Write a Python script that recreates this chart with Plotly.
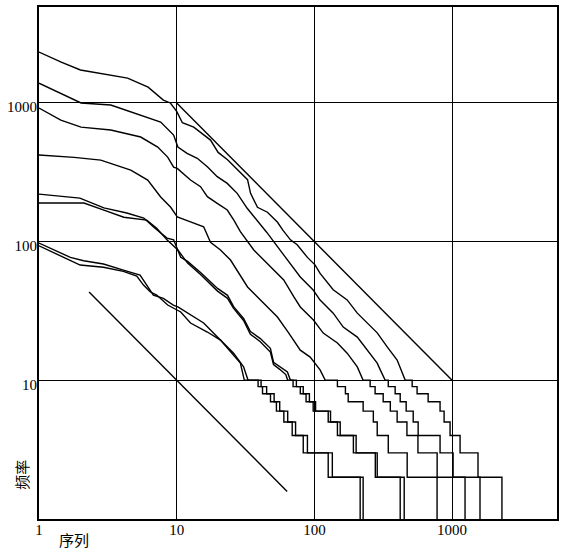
import plotly.graph_objects as go

# rank / frequency readings for the eight curves (smooth upper part, ending at freq 10)
rank_I = [1, 1.45, 2, 2.8, 4.4, 6.2, 8, 9, 10, 11, 13.3, 17.6, 20, 23.4, 32.7, 34.4, 38.6, 45.6,
          54, 59, 67, 75, 89, 101, 110, 137, 173, 205, 242, 286, 338, 399, 457]
freq_I = [2330, 1970, 1730, 1640, 1510, 1300, 1050, 1000, 870, 720, 670, 540, 440, 390, 280, 223, 177, 163,
          138, 121, 103, 95, 77, 68, 59, 45, 38, 30.5, 26, 22, 17.4, 14, 10]
rank_II = [1, 1.44, 2.02, 3.32, 5.48, 7.65, 9.5, 10.2, 11.9, 14.1, 16.7, 19.7, 23.3, 27.5, 32.5, 45,
           60, 79, 98, 110, 137, 162, 205, 242, 286, 301, 327]
freq_II = [1390, 1180, 1000, 966, 818, 728, 587, 481, 433, 399, 347, 294, 263, 223, 174, 117,
           80, 55.6, 44.8, 37.9, 30.5, 24.2, 20.5, 16.5, 13.3, 11.9, 10]
rank_III = [1, 1.44, 2.02, 3.32, 5.48, 7.28, 8.6, 9.5, 10.1, 12.6, 14.9, 16.7, 19.7, 23.3, 26, 29,
            36.3, 42.9, 50.7, 59.9, 70.8, 79, 98.4, 116, 147, 173, 205, 226]
freq_III = [919, 753, 670, 638, 568, 481, 407, 345, 337, 278, 249, 211, 189, 169, 143, 118,
            87, 73.7, 62.4, 52.9, 40.1, 33.8, 27.2, 21.9, 18.6, 15.7, 12.5, 10]
rank_IV = [1, 1.8, 2.81, 4.64, 6.16, 7.65, 9.05, 10.1, 12.6, 15.7, 17.6, 20.8, 24.6, 29, 32.7, 38.6,
           45.6, 53.9, 65, 79, 93.2, 110, 120]
freq_IV = [421, 405, 387, 328, 278, 210, 177, 151, 139, 128, 99, 87, 73.7, 57, 47.1, 39.9,
           33.8, 28.6, 22, 16.5, 14.7, 11.9, 10]
rank_V = [1, 1.98, 2.96, 4.34, 5.77, 6.82, 8.5, 9.5, 10.7, 12, 14.9, 19.8, 23.4, 25.9, 30.6, 34.3,
          40.5, 47.9, 50.5, 56.9, 63.7, 67]
freq_V = [220, 206, 175, 161, 148, 127, 106, 103, 77, 72, 60, 46, 41, 34, 28, 22.5,
          20, 17, 13.5, 12.5, 11.5, 10]
rank_VI = [1, 2.12, 2.96, 4.13, 6.06, 7.16, 8.5, 10.2, 12, 14.9, 19.8, 23.4, 25.9, 30.6, 34.3,
           40.5, 47.9, 50.5, 56, 62, 64]
freq_VI = [190, 190, 169, 150, 143, 125, 103, 87, 70, 58, 44, 39, 33, 27, 21.5,
           19, 16, 13, 12, 11, 10]
rank_VII = [1, 1.69, 2.11, 2.94, 4.1, 5.42, 6.06, 6.77, 8.0, 9.45, 10.2, 13.3, 15.7, 18.5, 21.9,
            25.9, 30.6, 33]
freq_VII = [97.7, 77, 72.8, 69, 62.4, 57.4, 48.6, 41.2, 39, 34.9, 33.8, 28.6, 25.9, 21.9, 18.6,
            15.7, 12.5, 10]
rank_VIII = [1, 1.69, 1.99, 2.94, 4.1, 5.13, 5.74, 6.41, 7.16, 8.6, 10.7, 12.6, 16.7, 20.8, 24.6,
             29, 31]
freq_VIII = [93.3, 72.8, 67.8, 65.3, 61, 56.5, 48.6, 43.5, 41.2, 34.9, 31.1, 25.9, 22.3, 19.5, 16,
             13.3, 10]

# ranks where the frequency drops to 9, 8, ..., 2, 1 (staircase part)
drop_I = [513, 557, 670, 818, 875, 967, 1143, 1543, 2302]
drop_II = [344, 386, 420, 464, 522, 567, 818, 1017, 1595]
drop_III = [254, 276, 316, 356, 399, 470, 565, 779, 1242]
drop_IV = [147, 168, 176, 226, 268, 286, 344, 472, 778]
drop_V = [74, 83, 92, 102, 131, 147, 192, 277, 420]
drop_VI = [70, 79, 87, 98, 126, 154, 201, 286, 449]
drop_VII = [41, 45, 51, 56, 64, 73, 89, 135, 226]
drop_VIII = [39, 42, 48, 53, 60, 69, 83, 126, 215]

curve_names = ["I", "II", "III", "IV", "V", "VI", "VII", "VIII"]
label_rank = [1.49, 1.44, 1.57, 1.52, 1.40, 1.44, 1.79, 1.44]
label_freq = [2253, 1324, 860, 435, 224, 161, 87, 64.5]

# reference lines A and B (slope -1)
line_A_rank = [2.31, 63.4]
line_A_freq = [43.3, 1.58]
line_B_rank = [10, 1000]
line_B_freq = [1000, 10]

tick_vals_x = [1, 10, 100, 1000]
tick_vals_y = [10, 100, 1000]

SERIF = "Liberation Serif, DejaVu Serif, serif"
CJK = "Noto Sans CJK SC"


def staircase(ranks, freqs, drops):
    xs = list(ranks)
    ys = list(freqs)
    level = freqs[-1]
    for r in drops:
        xs += [r, r]
        ys += [level, level - 1]
        level -= 1
    return xs, ys


curves = [
    (rank_I, freq_I, drop_I),
    (rank_II, freq_II, drop_II),
    (rank_III, freq_III, drop_III),
    (rank_IV, freq_IV, drop_IV),
    (rank_V, freq_V, drop_V),
    (rank_VI, freq_VI, drop_VI),
    (rank_VII, freq_VII, drop_VII),
    (rank_VIII, freq_VIII, drop_VIII),
]

fig = go.Figure()

for name, (r, f, d) in zip(curve_names, curves):
    xs, ys = staircase(r, f, d)
    fig.add_trace(go.Scatter(x=xs, y=ys, mode="lines", name=name,
                             line=dict(color="black", width=1.4), hoverinfo="skip"))

for xs, ys in [(line_A_rank, line_A_freq), (line_B_rank, line_B_freq)]:
    fig.add_trace(go.Scatter(x=xs, y=ys, mode="lines",
                             line=dict(color="black", width=1.4), hoverinfo="skip"))

for name, lx, ly in zip(curve_names, label_rank, label_freq):
    fig.add_annotation(x=lx, y=ly, xref="x", yref="y", text=name, showarrow=False,
                       xanchor="center", yanchor="middle",
                       font=dict(family=SERIF, size=13, color="black"))

fig.add_annotation(x=11.6, y=10.9, text="A", showarrow=False,
                   xanchor="center", yanchor="middle",
                   font=dict(family=SERIF, size=10, color="black"))
fig.add_annotation(x=110, y=113, text="B", showarrow=False,
                   xanchor="center", yanchor="middle",
                   font=dict(family=SERIF, size=10, color="black"))

fig.add_annotation(x=-0.033, y=0.086, xref="paper", yref="paper", text="频率",
                   textangle=-90, showarrow=False, xanchor="center", yanchor="middle",
                   font=dict(family=CJK, size=15, color="black"))
fig.add_annotation(x=0.068, y=-0.041, xref="paper", yref="paper", text="序列",
                   showarrow=False, xanchor="center", yanchor="middle",
                   font=dict(family=CJK, size=15, color="black"))

axis_common = dict(
    type="log",
    automargin=False,
    showgrid=True,
    gridcolor="black",
    gridwidth=1.2,
    showline=True,
    linecolor="black",
    linewidth=2,
    mirror=True,
    ticks="",
    zeroline=False,
    tickfont=dict(family=SERIF, size=15, color="black"),
)

fig.update_xaxes(range=[0, 3.762], tickvals=tick_vals_x,
                 ticktext=[str(v) for v in tick_vals_x], ticklabelstandoff=-4,
                 **axis_common)
fig.update_yaxes(range=[0, 3.692], tickvals=tick_vals_y,
                 ticktext=[str(v) for v in tick_vals_y], ticklabelshift=4,
                 ticklabelstandoff=-3, **axis_common)

fig.update_layout(
    width=566,
    height=551,
    margin=dict(l=39, r=9, t=7, b=32),
    paper_bgcolor="white",
    plot_bgcolor="white",
    showlegend=False,
)

fig.write_html("out.html", config={"displayModeBar": False},
               post_script="document.body.style.margin='0';")
